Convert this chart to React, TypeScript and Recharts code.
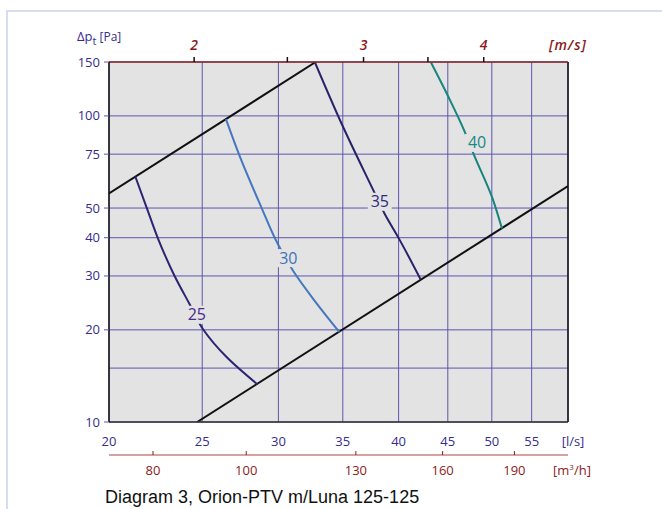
import React from 'react';
import {
    ComposedChart,
    Line,
    Scatter,
    XAxis,
    YAxis,
    CartesianGrid,
    ReferenceLine,
    Label
} from 'recharts';

// airflow [l/s], main x axis
const flowTicks = [20, 25, 30, 35, 40, 45, 50, 55];
// pressure drop [Pa]
const pressureTicks = [10, 15, 20, 30, 40, 50, 75, 100, 150];
const pressureLabels = [10, 20, 30, 40, 50, 75, 100, 150];
// face velocity [m/s] on top
const velocityTicks = [2, 2.5, 3, 3.5, 4];
const velocityLabels = [2, 3, 4];
const lpsPerMs = 12.26;
// airflow [m3/h] second bottom axis
const airflowTicks = [80, 100, 130, 160, 190];
const m3hPerLps = 3.6;

const FLOW_MIN = 20;
const FLOW_MAX = 60;
const P_MIN = 10;
const P_MAX = 150;

// working range limits
const upperLimit = [
    { q: 20, p: 55.8 },
    { q: 32.8, p: 150 }
];
const lowerLimit = [
    { q: 24.7, p: 10 },
    { q: 60, p: 59 }
];

// sound level curves, dB(A)
const curve25 = [
    { q: 21.3, p: 63.4 },
    { q: 21.9, p: 49.9 },
    { q: 22.5, p: 39.6 },
    { q: 23.4, p: 30.0 },
    { q: 24.25, p: 24.3 },
    { q: 25.05, p: 20.1 },
    { q: 26.5, p: 16.3 },
    { q: 28.55, p: 13.25 }
];
const curve30 = [
    { q: 26.46, p: 97.6 },
    { q: 27.3, p: 74.9 },
    { q: 28.83, p: 49.9 },
    { q: 29.78, p: 39.6 },
    { q: 31.12, p: 30.95 },
    { q: 32.78, p: 24.7 },
    { q: 34.7, p: 19.7 }
];
const curve35 = [
    { q: 32.73, p: 150 },
    { q: 34.95, p: 93.4 },
    { q: 37.69, p: 56.8 },
    { q: 38.71, p: 47.7 },
    { q: 40.02, p: 39.8 },
    { q: 42.17, p: 29.2 }
];
const curve40 = [
    { q: 43.2, p: 150 },
    { q: 45.14, p: 114.2 },
    { q: 46.78, p: 89.9 },
    { q: 47.92, p: 74.5 },
    { q: 50.08, p: 53.8 },
    { q: 51.22, p: 42.9 }
];

// curve tags
const curveTags = [
    { q: 24.68, p: 22.4, name: '25', color: '#4a2a8e' },
    { q: 30.72, p: 34.3, name: '30', color: '#3f72bb' },
    { q: 38.24, p: 52.4, name: '35', color: '#2e2a7c' },
    { q: 48.26, p: 81.6, name: '40', color: '#168a83' }
];

const BLUE = '#352d8c';
const RED = '#8c1a1a';
const GRID = '#5e55ae';
const PLOT_BG = '#e3e3e3';
const FONT = '"Open Sans", "Noto Sans", sans-serif';

// span of the secondary axes, so they get a domain of their own
const velocitySpan = [
    { q: FLOW_MIN / lpsPerMs, p: P_MIN },
    { q: FLOW_MAX / lpsPerMs, p: P_MIN }
];
const airflowSpan = [
    { q: FLOW_MIN * m3hPerLps, p: P_MIN },
    { q: FLOW_MAX * m3hPerLps, p: P_MIN }
];

const FlowTick = ({ x, y, payload }: any) => (
    <text x={x} y={y + 24} textAnchor="middle" fill={BLUE} fontSize={13} fontFamily={FONT}>
        {payload.value}
    </text>
);

const PressureTick = ({ x, y, payload }: any) => {
    if (!pressureLabels.includes(payload.value)) return null;
    return (
        <g>
            <line x1={x - 5} x2={x} y1={y} y2={y} stroke={GRID} />
            <text x={x - 9} y={y + 4.5} textAnchor="end" fill={BLUE} fontSize={13} fontFamily={FONT}>
                {payload.value}
            </text>
        </g>
    );
};

const VelocityTick = ({ x, y, payload }: any) => (
    <g>
        <line x1={x} x2={x} y1={y - 5} y2={y} stroke="#111" strokeWidth={1.5} />
        {velocityLabels.includes(payload.value) && (
            <text x={x} y={y - 12} textAnchor="middle" fill={RED} fontSize={14}
                fontStyle="italic" fontWeight={600} fontFamily={FONT}>
                {payload.value}
            </text>
        )}
    </g>
);

const AirflowTick = ({ x, y, payload }: any) => (
    <g>
        <line x1={x} x2={x} y1={y - 4} y2={y} stroke={RED} />
        <text x={x} y={y + 20} textAnchor="middle" fill={RED} fontSize={13} fontFamily={FONT}>
            {payload.value}
        </text>
    </g>
);

const CurveTag = ({ cx, cy, payload }: any) => (
    <g>
        <rect x={cx - 12} y={cy - 9} width={24} height={18} fill={PLOT_BG} />
        <text x={cx} y={cy + 5.5} textAnchor="middle" fill={payload.color} fontSize={16} fontFamily={FONT}>
            {payload.name}
        </text>
    </g>
);

const App = () => {
    return (
        <div style={{ position: 'absolute', left: 0, top: 0, width: 662, height: 509, background: '#fff', overflow: 'hidden' }}>
            {/* light frame of the source page */}
            <div style={{
                position: 'absolute', left: 6, top: 10, width: 670, height: 520,
                borderTop: '2px solid #d6ddf0', borderLeft: '2px solid #d6ddf0'
            }} />
            <div style={{ position: 'absolute', left: 0, top: 0 }}>
                <ComposedChart
                    width={662}
                    height={509}
                    margin={{ top: 22, right: 94, bottom: 24, left: 49 }}
                >
                    <CartesianGrid stroke={GRID} fill={PLOT_BG} strokeWidth={1} />

                    <XAxis
                        dataKey="q"
                        type="number"
                        scale="log"
                        domain={[FLOW_MIN, FLOW_MAX]}
                        allowDataOverflow
                        ticks={flowTicks}
                        interval={0}
                        height={33}
                        tickSize={0}
                        tickMargin={0}
                        tickLine={false}
                        tick={<FlowTick />}
                        stroke="#333"
                        strokeWidth={1.5}
                    >
                        <Label content={({ viewBox }: any) => (
                            <text x={viewBox.x + viewBox.width + 5} y={viewBox.y + 24} textAnchor="middle"
                                fill={BLUE} fontSize={13} fontFamily={FONT}>[l/s]</text>
                        )} />
                    </XAxis>

                    <XAxis
                        xAxisId="m3h"
                        dataKey="q"
                        type="number"
                        scale="log"
                        domain={[FLOW_MIN * m3hPerLps, FLOW_MAX * m3hPerLps]}
                        allowDataOverflow
                        ticks={airflowTicks}
                        interval={0}
                        height={30}
                        tickSize={0}
                        tickMargin={0}
                        tickLine={false}
                        tick={<AirflowTick />}
                        stroke="#b04545"
                    >
                        <Label content={({ viewBox }: any) => (
                            <g>
                                <text x={viewBox.x + viewBox.width + 4} y={viewBox.y + 20} textAnchor="middle"
                                    fill={RED} fontSize={13} fontFamily={FONT}>
                                    [m<tspan dy={-5} fontSize={8}>3</tspan><tspan dy={5}>/h]</tspan>
                                </text>
                                <text x={viewBox.x - 4} y={viewBox.y + 48} fill="#111" fontSize={18}
                                    fontFamily='"Liberation Sans", Arial, sans-serif'>
                                    Diagram 3, Orion-PTV m/Luna 125-125
                                </text>
                            </g>
                        )} />
                    </XAxis>

                    <XAxis
                        xAxisId="ms"
                        dataKey="q"
                        orientation="top"
                        type="number"
                        scale="log"
                        domain={[FLOW_MIN / lpsPerMs, FLOW_MAX / lpsPerMs]}
                        allowDataOverflow
                        ticks={velocityTicks}
                        interval={0}
                        height={40}
                        tickSize={0}
                        tickMargin={0}
                        tickLine={false}
                        tick={<VelocityTick />}
                        stroke="#8b2525"
                        strokeWidth={1.5}
                    >
                        <Label content={({ viewBox }: any) => (
                            <text x={viewBox.x + viewBox.width} y={viewBox.y + 28} textAnchor="middle"
                                fill={RED} fontSize={14} fontStyle="italic" fontWeight={600}
                                letterSpacing={1} fontFamily={FONT}>[m/s]</text>
                        )} />
                    </XAxis>

                    <YAxis
                        type="number"
                        scale="log"
                        domain={[P_MIN, P_MAX]}
                        allowDataOverflow
                        ticks={pressureTicks}
                        interval={0}
                        width={60}
                        tickSize={0}
                        tickMargin={0}
                        tickLine={false}
                        tick={<PressureTick />}
                        stroke="#111"
                        strokeWidth={1.5}
                    >
                        <Label content={({ viewBox }: any) => (
                            <text x={viewBox.x + 28} y={viewBox.y - 21} fill={BLUE} fontSize={13} fontFamily={FONT}>
                                Δp<tspan dy={4} fontSize={11}>t</tspan>
                                <tspan dy={-4} fontSize={12}> [Pa]</tspan>
                            </text>
                        )} />
                    </YAxis>

                    <ReferenceLine x={FLOW_MAX} stroke="#111" strokeWidth={1.5} />

                    {/* invisible spans that give the m/s and m3/h axes their scale */}
                    <Line xAxisId="ms" data={velocitySpan} dataKey="p" stroke="none" dot={false} isAnimationActive={false} />
                    <Line xAxisId="m3h" data={airflowSpan} dataKey="p" stroke="none" dot={false} isAnimationActive={false} />

                    <Line data={upperLimit} dataKey="p" stroke="#111" strokeWidth={2} dot={false} isAnimationActive={false} />
                    <Line data={lowerLimit} dataKey="p" stroke="#111" strokeWidth={2} dot={false} isAnimationActive={false} />

                    <Line data={curve25} dataKey="p" type="monotoneY" stroke="#2b2472" strokeWidth={2} dot={false} isAnimationActive={false} />
                    <Line data={curve30} dataKey="p" type="monotoneY" stroke="#4477bf" strokeWidth={2} dot={false} isAnimationActive={false} />
                    <Line data={curve35} dataKey="p" type="monotoneY" stroke="#27226a" strokeWidth={2} dot={false} isAnimationActive={false} />
                    <Line data={curve40} dataKey="p" type="monotoneY" stroke="#16857e" strokeWidth={2} dot={false} isAnimationActive={false} />

                    <Scatter data={curveTags} dataKey="p" shape={<CurveTag />} isAnimationActive={false} />
                </ComposedChart>
            </div>
        </div>
    );
};

export default App;
